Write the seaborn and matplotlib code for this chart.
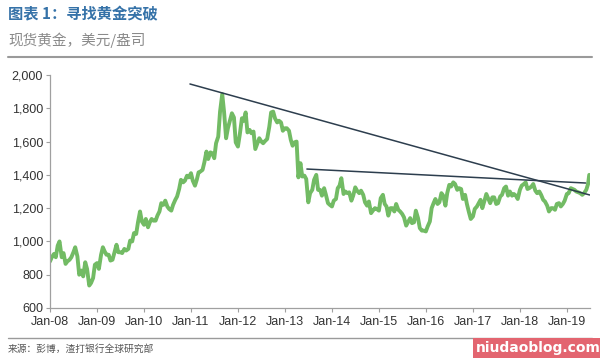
import matplotlib
matplotlib.use("Agg")
import matplotlib.pyplot as plt
import matplotlib.dates as mdates
from matplotlib.ticker import FuncFormatter
import seaborn as sns
import pandas as pd

# Semi-monthly spot gold (USD/oz)
gold_2008 = [880, 905, 925, 905, 975, 1000, 905, 930, 865, 880, 890, 905,
             935, 965, 910, 800, 825, 790, 875, 835, 735, 750, 780, 860]
gold_2009 = [870, 835, 920, 965, 940, 920, 920, 885, 890, 930, 980, 935,
             935, 930, 955, 945, 955, 1005, 1000, 1050, 1045, 1115, 1180, 1120]
gold_2010 = [1100, 1135, 1085, 1115, 1135, 1125, 1125, 1155, 1180, 1230, 1220, 1245,
             1210, 1195, 1185, 1220, 1250, 1270, 1315, 1370, 1355, 1365, 1395, 1385]
gold_2011 = [1410, 1365, 1335, 1370, 1415, 1420, 1430, 1475, 1540, 1495, 1535, 1530,
             1500, 1590, 1630, 1780, 1885, 1780, 1620, 1680, 1730, 1770, 1745, 1595]
gold_2012 = [1570, 1640, 1740, 1725, 1775, 1655, 1670, 1650, 1660, 1555, 1590, 1620,
             1600, 1590, 1605, 1615, 1690, 1775, 1780, 1740, 1715, 1725, 1715, 1665]
gold_2013 = [1680, 1680, 1665, 1610, 1575, 1595, 1600, 1385, 1470, 1390, 1395, 1375,
             1235, 1290, 1310, 1370, 1400, 1310, 1310, 1275, 1320, 1280, 1230, 1220]
gold_2014 = [1210, 1245, 1255, 1320, 1335, 1380, 1285, 1300, 1290, 1295, 1245, 1275,
             1325, 1305, 1290, 1305, 1280, 1235, 1215, 1240, 1170, 1185, 1200, 1195]
gold_2015 = [1185, 1260, 1280, 1225, 1210, 1155, 1200, 1200, 1180, 1225, 1190, 1180,
             1165, 1145, 1095, 1115, 1140, 1110, 1115, 1185, 1140, 1080, 1065, 1065]
gold_2016 = [1060, 1090, 1120, 1200, 1230, 1255, 1225, 1235, 1290, 1275, 1215, 1290,
             1340, 1330, 1355, 1345, 1310, 1320, 1315, 1255, 1280, 1225, 1175, 1135]
gold_2017 = [1150, 1195, 1210, 1230, 1250, 1200, 1245, 1285, 1255, 1230, 1265, 1265,
             1225, 1230, 1270, 1280, 1320, 1330, 1275, 1300, 1275, 1285, 1275, 1255]
gold_2018 = [1310, 1335, 1345, 1355, 1315, 1320, 1330, 1345, 1305, 1290, 1300, 1280,
             1250, 1240, 1215, 1180, 1200, 1200, 1190, 1225, 1230, 1210, 1225, 1245]
gold_2019 = [1285, 1290, 1320, 1315, 1310, 1300, 1295, 1290, 1280, 1290, 1310, 1345, 1400]

trend1_dates = ["2010-12-24", "2019-06-28"]
trend1_vals = [1946, 1279]
trend2_dates = ["2013-06-20", "2019-05-27"]
trend2_vals = [1435, 1351]

xtick_years = list(range(2008, 2020))

values = (gold_2008 + gold_2009 + gold_2010 + gold_2011 + gold_2012 + gold_2013 +
          gold_2014 + gold_2015 + gold_2016 + gold_2017 + gold_2018 + gold_2019)
dates = list(pd.date_range("2008-01-01", periods=len(values) - 1, freq="SMS"))
dates.append(pd.Timestamp("2019-06-24"))
df = pd.DataFrame({"date": dates, "price": values})

sns.set_theme(style="white")
plt.rcParams["font.family"] = ["Liberation Sans", "Noto Sans CJK SC", "DejaVu Sans"]

fig = plt.figure(figsize=(6, 3.6), dpi=100)
ax = fig.add_axes([50 / 600, 1 - 308 / 360, 540 / 600, 233 / 360])

sns.lineplot(data=df, x="date", y="price", ax=ax, color="#72bb64", linewidth=2.8)
tcol = "#2d3e4e"
sns.lineplot(x=pd.to_datetime(trend1_dates), y=trend1_vals, ax=ax, color=tcol, linewidth=1.1)
sns.lineplot(x=pd.to_datetime(trend2_dates), y=trend2_vals, ax=ax, color=tcol, linewidth=1.1)

ax.set_ylim(600, 2000)
ax.set_yticks(range(600, 2001, 200))
ax.yaxis.set_major_formatter(FuncFormatter(lambda v, p: f"{int(v):,}"))
ax.set_xlim(pd.Timestamp("2008-01-01"), pd.Timestamp("2019-06-30"))
ax.set_xticks([pd.Timestamp(f"{y}-01-01") for y in xtick_years])
ax.set_xticklabels([f"Jan-{y % 100:02d}" for y in xtick_years])
ax.set_xlabel("")
ax.set_ylabel("")

for s in ["top", "right"]:
    ax.spines[s].set_visible(False)
for s in ["left", "bottom"]:
    ax.spines[s].set_color("#a0a0a0")
    ax.spines[s].set_linewidth(0.9)
ax.tick_params(axis="both", which="both", length=3, width=0.8, color="#a0a0a0",
               labelsize=9, labelcolor="#333333", pad=2)
ax.tick_params(axis="x", bottom=True, pad=3)
ax.tick_params(axis="y", left=True)
ax.grid(False)

cjk = ["Noto Sans CJK SC", "DejaVu Sans"]
fig.text(8 / 600, 1 - 14 / 360, "图表 1：寻找黄金突破", family=cjk, fontsize=11,
         fontweight="bold", color="#3572a8", va="center", ha="left")
fig.text(8 / 600, 1 - 40 / 360, "现货黄金，美元/盎司", family=cjk, fontsize=10.5,
         color="#8a8a8a", va="center", ha="left", style="italic")
fig.add_artist(plt.Line2D([8 / 600, 592 / 600], [1 - 57 / 360, 1 - 57 / 360],
                          color="#9a9a9a", linewidth=1.5))
fig.add_artist(plt.Line2D([8 / 600, 592 / 600], [1 - 338 / 360, 1 - 338 / 360],
                          color="#9a9a9a", linewidth=1.0))
fig.text(8 / 600, 1 - 349 / 360, "来源：彭博，渣打银行全球研究部", family=cjk, fontsize=7,
         color="#555555", va="center", ha="left")

# watermark
fig.text(538 / 600, 1 - 348 / 360, "niudaoblog.com", family=["DejaVu Sans"], fontsize=10,
         fontweight="bold", color="white", va="center", ha="center",
         bbox=dict(boxstyle="square,pad=0.2", facecolor="#e36570", edgecolor="none"))

fig.savefig("out.png", dpi=100)
